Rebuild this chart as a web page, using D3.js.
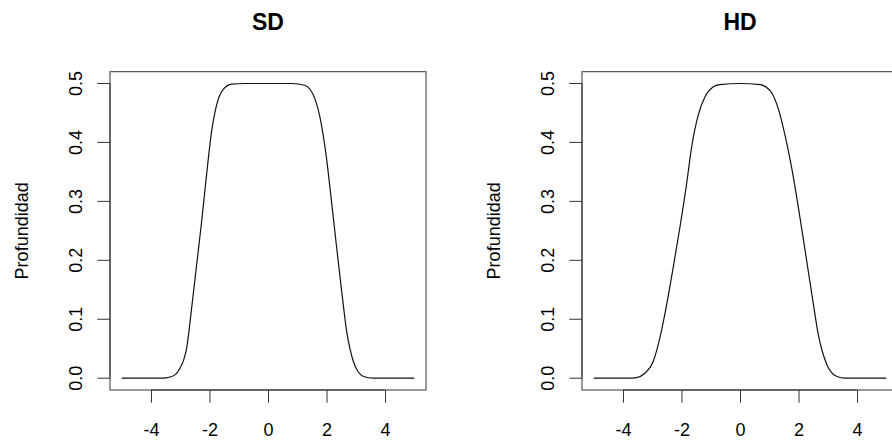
<!DOCTYPE html>
<html>
<head>
<meta charset="utf-8">
<script src="https://cdn.jsdelivr.net/npm/d3@7"></script>
<style>
    body { margin: 0; background: #fff; }
    svg { display: block; }
    text { font-family: "Liberation Sans", Arial, sans-serif; fill: #000; }
</style>
</head>
<body>
<div id="chart"></div>
<script>
// panel titles and shared tick values
const titles = ["SD", "HD"];
const xTicks = [-4, -2, 0, 2, 4];
const yTicks = [0.0, 0.1, 0.2, 0.3, 0.4, 0.5];
const yLabel = "Profundidad";

// simplicial depth
const sdX = [-5, -3.6, -3.35, -3.15, -3.01, -2.88, -2.78, -2.61, -2.44, -2.27, -2.10, -1.93, -1.76, -1.53, -1.24, -0.8, 0, 0.8,
    1.26, 1.61, 1.83, 2.0, 2.17, 2.35, 2.52, 2.69, 2.81, 2.92, 3.08, 3.26, 3.6, 5];
const sdDepth = [0, 0, 0.002, 0.007, 0.017, 0.031, 0.051, 0.119, 0.192, 0.265, 0.345, 0.418, 0.463, 0.49, 0.499, 0.5, 0.5, 0.5,
    0.497, 0.473, 0.429, 0.373, 0.30, 0.22, 0.147, 0.079, 0.048, 0.028, 0.011, 0.003, 0, 0];

// halfspace depth
const hdX = [-5, -3.8, -3.54, -3.26, -2.97, -2.74, -2.51, -2.29, -2.06, -1.83, -1.66, -1.43, -1.2, -0.92, -0.69, 0,
    0.69, 1.03, 1.31, 1.54, 1.77, 2.0, 2.23, 2.46, 2.68, 2.97, 3.31, 3.6, 5];
const hdDepth = [0, 0, 0.001, 0.008, 0.028, 0.068, 0.124, 0.186, 0.254, 0.328, 0.39, 0.446, 0.477, 0.494, 0.498, 0.5,
    0.498, 0.488, 0.457, 0.412, 0.356, 0.288, 0.215, 0.141, 0.073, 0.023, 0.003, 0, 0];

const totalWidth = 892, totalHeight = 442;
const panelLeft = [110, 582], panelTop = 71.7, panelWidth = 316, panelHeight = 318.3;
const tickLen = 12.7;

const svg = d3.select("#chart").append("svg")
        .attr("width", totalWidth)
        .attr("height", totalHeight);

const series = [
    sdX.map((x, i) => [x, sdDepth[i]]),
    hdX.map((x, i) => [x, hdDepth[i]])
];

series.forEach(function (data, p) {
    let xScale = d3.scaleLinear().domain([-5.4, 5.4]).range([0, panelWidth]);
    let yScale = d3.scaleLinear().domain([-0.02, 0.52]).range([panelHeight, 0]);

    let g = svg.append("g")
            .attr("transform", "translate(" + panelLeft[p] + "," + panelTop + ")");

    // x axis, R style: line spans first to last tick only, plain hyphen minus
    let xAxis = d3.axisBottom(xScale)
            .tickValues(xTicks)
            .tickSize(tickLen)
            .tickPadding(20.5)
            .tickFormat(d => String(d));
    let ax = g.append("g")
            .attr("transform", "translate(0," + panelHeight + ")")
            .call(xAxis);
    ax.select(".domain").remove();
    ax.selectAll(".tick line").attr("stroke", "#333");
    ax.selectAll(".tick text")
            .attr("dy", "0.71em")
            .style("font-size", "18px")
            .style("font-family", "'Liberation Sans', Arial, sans-serif");
    ax.append("line")
            .attr("x1", xScale(xTicks[0])).attr("x2", xScale(xTicks[xTicks.length - 1]))
            .attr("stroke", "#333");

    // y axis with rotated labels
    let ay = g.append("g");
    ay.append("line")
            .attr("y1", yScale(yTicks[0])).attr("y2", yScale(yTicks[yTicks.length - 1]))
            .attr("stroke", "#333");
    ay.selectAll("line.tk").data(yTicks).enter().append("line")
            .attr("class", "tk")
            .attr("x1", -tickLen).attr("x2", 0)
            .attr("y1", d => yScale(d)).attr("y2", d => yScale(d))
            .attr("stroke", "#333");
    ay.selectAll("text").data(yTicks).enter().append("text")
            .attr("transform", d => "translate(-28," + yScale(d) + ") rotate(-90)")
            .attr("text-anchor", "middle")
            .style("font-size", "18px")
            .text(d => d.toFixed(1));

    g.append("text")
            .attr("transform", "translate(-82," + (panelHeight / 2) + ") rotate(-90)")
            .attr("text-anchor", "middle")
            .style("font-size", "18px")
            .text(yLabel);

    // box
    g.append("rect")
            .attr("width", panelWidth)
            .attr("height", panelHeight)
            .attr("fill", "none")
            .attr("stroke", "#333");

    // depth curve
    let line = d3.line()
            .x(d => xScale(d[0]))
            .y(d => yScale(d[1]))
            .curve(d3.curveMonotoneX);
    g.append("path")
            .datum(data)
            .attr("d", line)
            .attr("fill", "none")
            .attr("stroke", "#111")
            .attr("stroke-width", 1.2);

    g.append("text")
            .attr("x", panelWidth / 2)
            .attr("y", 30 - panelTop)
            .attr("text-anchor", "middle")
            .style("font-size", "23px")
            .style("font-weight", "bold")
            .text(titles[p]);
});
</script>
</body>
</html>
